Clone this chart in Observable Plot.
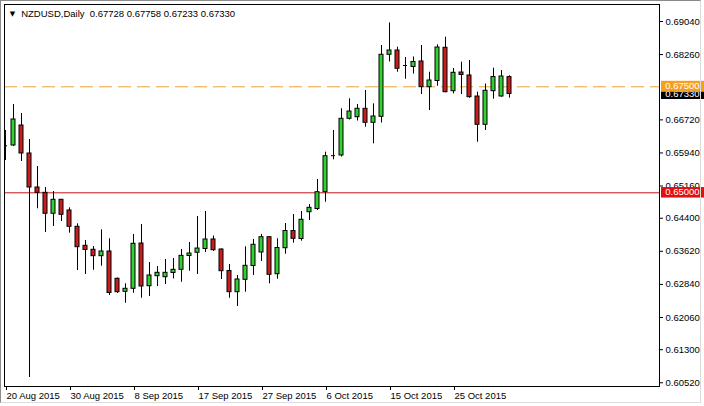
<!DOCTYPE html>
<html>
<head>
<meta charset="utf-8">
<script src="https://cdn.jsdelivr.net/npm/d3@7"></script>
<script src="https://cdn.jsdelivr.net/npm/@observablehq/plot@0.6"></script>
<style>
  html, body { margin: 0; padding: 0; background: #fff; }
  #wrap { position: relative; width: 704px; height: 406px; overflow: hidden; }
  #edge { position: absolute; left: 0; top: 0; width: 699px; height: 401px;
          border-left: 1px solid #8a8a8a; border-top: 1px solid #8a8a8a;
          border-right: 1px solid #dcdcdc; border-bottom: 1px solid #dcdcdc; pointer-events: none; }
</style>
</head>
<body>
<div id="wrap"><div id="edge"></div></div>
<script>
// Daily NZDUSD candles, 20 Aug 2015 onward (one entry per bar)
const open = [0.66110,0.66116,0.66587,0.65927,0.65125,0.65000,0.64505,0.64835,0.64583,0.64198,
  0.63750,0.63656,0.63505,0.63616,0.62972,0.62665,0.62736,0.63804,0.62797,0.63033,
  0.63009,0.63109,0.63184,0.63509,0.63585,0.63675,0.63899,0.63663,0.63156,0.62656,
  0.62948,0.63274,0.63592,0.63953,0.63080,0.63693,0.64099,0.63910,0.64542,0.64618,
  0.65014,0.65875,0.65880,0.66745,0.66783,0.66981,0.66651,0.66792,0.68255,0.68356,
  0.68002,0.67967,0.68097,0.67491,0.67637,0.68420,0.67396,0.67837,0.67767,0.67271,
  0.66604,0.67396,0.67271,0.67728];
const high = [0.66469,0.67083,0.66870,0.66257,0.65620,0.65125,0.65031,0.64845,0.64646,0.64269,
  0.63875,0.63733,0.64127,0.63915,0.62991,0.62854,0.64017,0.64252,0.63356,0.63262,
  0.63427,0.63450,0.63663,0.63828,0.64441,0.64559,0.63981,0.63675,0.63309,0.63050,
  0.63726,0.63899,0.64017,0.63958,0.63915,0.64276,0.64488,0.64559,0.64724,0.65314,
  0.65958,0.66469,0.66981,0.67217,0.67083,0.67413,0.67099,0.68474,0.69005,0.68434,
  0.68191,0.68203,0.68474,0.67844,0.68491,0.68670,0.67932,0.68080,0.68120,0.67373,
  0.67566,0.67939,0.67884,0.67758];
const low = [0.65762,0.66092,0.65738,0.60644,0.64623,0.64064,0.64205,0.64323,0.64047,0.63167,
  0.63073,0.63174,0.63269,0.62578,0.62625,0.62396,0.62632,0.62514,0.62554,0.62790,
  0.62837,0.62967,0.62891,0.63151,0.63073,0.63592,0.63616,0.62955,0.62514,0.62318,
  0.62656,0.63050,0.63380,0.62854,0.62962,0.63552,0.63811,0.63859,0.64347,0.64583,
  0.64778,0.65778,0.65844,0.66717,0.66693,0.66547,0.66156,0.66646,0.68085,0.67844,
  0.67679,0.67802,0.67318,0.66941,0.67514,0.67358,0.67335,0.67318,0.67231,0.66193,
  0.66469,0.67208,0.67255,0.67233];
const close = [0.66110,0.66729,0.65927,0.65125,0.65000,0.64505,0.64835,0.64481,0.64198,0.63717,
  0.63651,0.63505,0.63616,0.62637,0.62656,0.62736,0.63797,0.62790,0.63050,0.63113,
  0.63113,0.63184,0.63514,0.63568,0.63686,0.63899,0.63646,0.63151,0.62656,0.62955,
  0.63278,0.63774,0.63953,0.63066,0.63698,0.64099,0.63915,0.64363,0.64646,0.65014,
  0.65863,0.65875,0.66745,0.66917,0.66981,0.66651,0.66800,0.68255,0.68356,0.67925,
  0.68002,0.68085,0.67491,0.67649,0.68427,0.67373,0.67830,0.67778,0.67255,0.66604,
  0.67406,0.67731,0.67743,0.67330];

const xTickBars = [0, 8, 16, 24, 32, 40, 48, 56];
const xTickLabels = ["20 Aug 2015","30 Aug 2015","8 Sep 2015","17 Sep 2015","27 Sep 2015","6 Oct 2015","15 Oct 2015","25 Oct 2015"];
const yTickValues = [0.69040,0.68260,0.66720,0.65940,0.65160,0.64400,0.63620,0.62840,0.62060,0.61300,0.60520];
const dashedLevel = 0.675;
const solidLevel = 0.65;
const symbol = "NZDUSD,Daily";

const candles = open.map((o, i) => ({i, open: o, high: high[i], low: low[i], close: close[i]}));
const bulls = candles.filter(d => d.close > d.open);
const bears = candles.filter(d => d.close < d.open);
const dojis = candles.filter(d => d.close === d.open);
const last = candles[candles.length - 1];
const f5 = d3.format(".5f");
const header = symbol + "\u00a0\u00a0" + [last.open, last.high, last.low, last.close].map(f5).join(" ");

const W = 704, H = 406, mL = 4, mT = 4, mR = 45, mB = 20;
const GREEN = "#30d030", RED = "#c81e1e";
const half = 0.25;

const chart = Plot.plot({
  width: W, height: H,
  marginLeft: mL, marginTop: mT, marginRight: mR, marginBottom: mB,
  x: {type: "linear", domain: [-0.125, 81.75]},
  y: {domain: [0.604316, 0.694410]},
  style: {fontFamily: "'Liberation Sans', Arial, sans-serif", fontSize: "9.5px", color: "black", background: "transparent", overflow: "visible"},
  marks: [
    Plot.ruleY([dashedLevel], {stroke: "#f0a030", strokeDasharray: "13,6"}),
    Plot.ruleY([solidLevel], {stroke: "#c41818"}),
    Plot.ruleX(candles, {x: "i", y1: "low", y2: "high", stroke: "black", clip: true}),
    Plot.rect(bulls, {x1: d => d.i - half, x2: d => d.i + half, y1: "open", y2: "close", fill: GREEN, stroke: "black", clip: true}),
    Plot.rect(bears, {x1: d => d.i - half, x2: d => d.i + half, y1: "open", y2: "close", fill: RED, stroke: "black", clip: true}),
    Plot.ruleY(dojis, {x1: d => d.i - half, x2: d => d.i + half, y: "open", stroke: "black", clip: true}),
    Plot.frame({stroke: "black"}),
    Plot.axisY({anchor: "right", ticks: yTickValues, tickFormat: f5, tickSize: 3, tickPadding: 3, label: null}),
    Plot.axisX({ticks: xTickBars, tickFormat: d => xTickLabels[xTickBars.indexOf(d)], tickSize: 4, tickPadding: 2, textAnchor: "start", dx: 1, label: null}),
    Plot.text(["\u25BC"], {text: d => d, frameAnchor: "top-left", dx: 8, dy: 9.5, textAnchor: "middle", lineAnchor: "middle", fontSize: 7, fontFamily: "DejaVu Sans"}),
    Plot.text([header], {text: d => d, frameAnchor: "top-left", dx: 16.7, dy: 9, textAnchor: "start", lineAnchor: "middle"})
  ]
});

// price tags on the right axis, positioned through Plot's y scale
const yS = chart.scale("y");
const svg = d3.select(chart);
const gx = W - mR;
function tag(v, bg, h) {
  const cy = yS.apply(v);
  const g = svg.append("g").attr("text-anchor", "start");
  g.append("rect").attr("x", gx + 2).attr("y", cy - h / 2).attr("width", W - gx - 2).attr("height", h).attr("fill", bg);
  g.append("text").attr("x", gx + 6.3).attr("y", cy).attr("dy", "0.32em")
    .attr("text-anchor", "start").attr("fill", "white").text(f5(v));
}
tag(last.close, "#000000", 11);
tag(dashedLevel, "#f5a020", 11);
tag(solidLevel, "#e01010", 10.5);

document.getElementById("wrap").insertBefore(chart, document.getElementById("edge"));
</script>
</body>
</html>
